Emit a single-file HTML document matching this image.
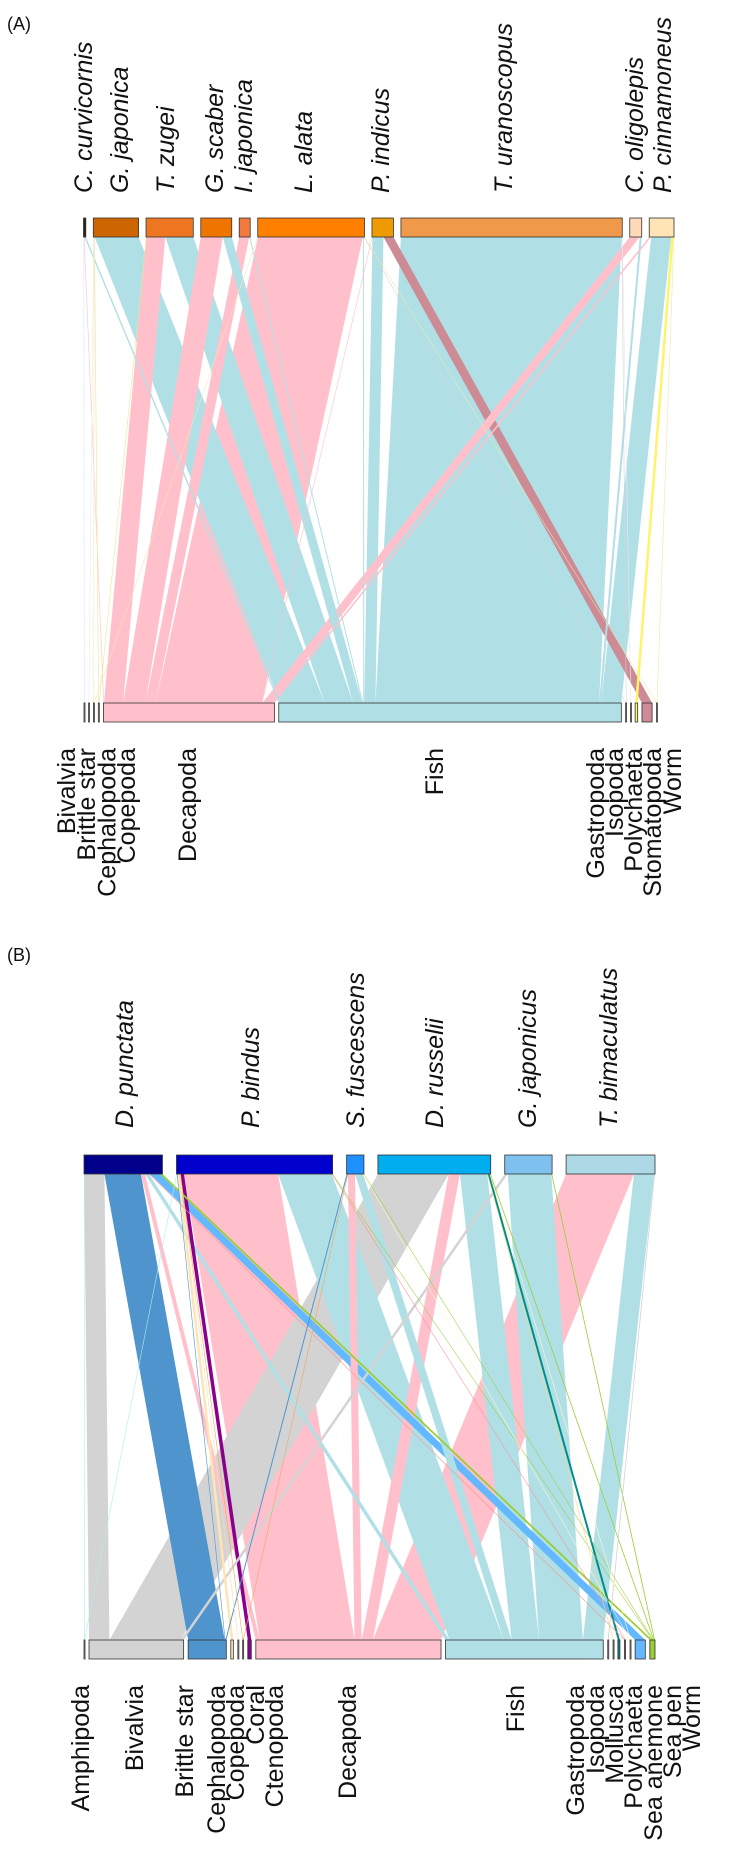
<!DOCTYPE html>
<html><head><meta charset="utf-8">
<style>
html,body{margin:0;padding:0;background:#fff;}
svg{display:block;}
text{font-family:"Liberation Sans",Arial,sans-serif;fill:#111;}
</style></head>
<body>
<svg id="chart" width="740" height="1850" viewBox="0 0 740 1850" xmlns="http://www.w3.org/2000/svg">
<text x="7" y="30" font-size="18">(A)</text>
<text x="7" y="961" font-size="18">(B)</text>
<g id="panelA"></g>
<g id="panelB"></g>
</svg>
<script>
// ---------- Panel A data ----------
const predA = ["C. curvicornis","G. japonica","T. zugei","G. scaber","I. japonica","L. alata","P. indicus","T. uranoscopus","C. oligolepis","P. cinnamoneus"];
const predColorA = ["#222222","#CD6600","#EE7621","#EE7600","#F4793E","#FF7F00","#EE9A00","#F0994A","#FFDAB9","#FFE4B5"];
const preyA = ["Bivalvia","Brittle star","Cephalopoda","Copepoda","Decapoda","Fish","Gastropoda","Isopoda","Polychaeta","Stomatopoda","Worm"];
const preyColorA = ["#D6E8F5","#DDEEFF","#FFE4B5","#F0E68C","#FFC0CB","#B0E0E6","#D3D3D3","#E6E6FA","#FFF36B","#CD8C95","#EEE8AA"];
const webA0 = [0.3,0,0,0,0.5,1.5,0,0,0,0,0];
const webA1 = [0,0.5,0.3,0.5,0,44,0,0,0,0,0];
const webA2 = [0,0,0,0.3,19,28,0,0,0,0,0];
const webA3 = [0,0,0,0,22,9,0,0,0,0,0];
const webA4 = [0,0,0,0,10,1,0,0,0,0,0];
const webA5 = [0,0,0.3,0,105,1,0.3,0,0,0,0.3];
const webA6 = [0,0,0,0,0.5,11,0,0,0,10,0];
const webA7 = [0,0,0,0,0,221,0.3,0.3,0,0,0];
const webA8 = [0,0,0,0,10,2,0,0,0,0,0];
const webA9 = [0,0,0,0,2,20,0,0,2.5,0,0.3];
const predLabelXA = [84,120,166,215,244,304,381,504,635,663];
const preyLabelXA = [67,87,107.5,127,188,435,596,615,634,653,673];

// ---------- Panel B data ----------
const predB = ["D. punctata","P. bindus","S. fuscescens","D. russelii","G. japonicus","T. bimaculatus"];
const predColorB = ["#00008B","#0000CD","#1E90FF","#00AEEF","#7EC0EE","#ADD8E6"];
const preyB = ["Amphipoda","Bivalvia","Brittle star","Cephalopoda","Copepoda","Coral","Ctenopoda","Decapoda","Fish","Gastropoda","Isopoda","Mollusca","Polychaeta","Sea anemone","Sea pen","Worm"];
const preyColorB = ["#AFEEEE","#D3D3D3","#4F94CD","#FFE4B5","#FFDAB9","#F4A460","#8B008B","#FFC0CB","#B0E0E6","#D3D3D3","#EEDD82","#008B8B","#FF8C8C","#FFFACD","#63B8FF","#9ACD32"];
const webB0 = [0.2,20,36,0,0,0,0,4,4,0,0,0,0.8,0,10,2.5];
const webB1 = [0.3,0,0.5,2.5,0.3,0.3,3.5,93,53,0,0,0,0.3,0,0,0.5];
const webB2 = [0,0,1,0,0,0.3,0,7,8,0,0,0,0,0.3,0,0.5];
const webB3 = [0,70,0,0,0,0,0,11,27,0,0.3,2,0,0.3,0,0.8];
const webB4 = [0,3,0,0,0,0,0,0,43,0,0,0,0,0,0,0.8];
const webB5 = [0,0,0,0,0,0,0,67,20,0.8,0,0,0,0,0,0];
const predLabelXB = [125,251,356,435,528,609];
const preyLabelXB = [81,135,185,217,236,256,275,348,516,576,596,615,634,654,673,692];

const NS = "http://www.w3.org/2000/svg";
function mk(tag, attrs, parent){
  const e = document.createElementNS(NS, tag);
  for (const k in attrs) e.setAttribute(k, attrs[k]);
  parent.appendChild(e);
  return e;
}
function layout(totals, x0, x1, gap){
  const sum = totals.reduce((a,b)=>a+b,0);
  const s = (x1 - x0 - gap*(totals.length-1)) / sum;
  const pos = []; let x = x0;
  totals.forEach(t => { pos.push({x:x, w:t*s}); x += t*s + gap; });
  return {pos:pos, s:s};
}
function drawWeb(g, cfg){
  const web = cfg.web, nP = web.length, nQ = web[0].length;
  const pt = web.map(r => r.reduce((a,b)=>a+b,0));
  const qt = []; for (let j=0;j<nQ;j++){ let s=0; for(let i=0;i<nP;i++) s+=web[i][j]; qt.push(s); }
  const top = layout(pt, cfg.topX0, cfg.topX1, cfg.topGap);
  const bot = layout(qt, cfg.botX0, cfg.botX1, cfg.botGap);
  const links = [];
  const topCur = top.pos.map(p => p.x);
  const botCur = bot.pos.map(p => p.x);
  const botSeg = [];
  for (let j=0;j<nQ;j++){ botSeg.push([]); }
  for (let j=0;j<nQ;j++){ for (let i=0;i<nP;i++){ botSeg[j][i] = botCur[j]; botCur[j] += web[i][j]*bot.s; } }
  for (let i=0;i<nP;i++){
    for (let j=0;j<nQ;j++){
      const v = web[i][j]; if (v<=0) continue;
      const tx = topCur[i], tw = v*top.s; topCur[i] += tw;
      const bx = botSeg[j][i], bw = v*bot.s;
      links.push({i:i,j:j,v:v,tx:tx,tw:tw,bx:bx,bw:bw});
    }
  }
  links.sort((a,b)=>b.v-a.v);
  const lg = mk("g", {}, g);
  
  
  links.forEach(L => {
    const y1 = cfg.topY + cfg.barH, y2 = cfg.botY;
    const tw = Math.max(L.tw, 0.6), bw = Math.max(L.bw, 0.6);
    const p = mk("polygon", {points: `${L.tx},${y1} ${L.tx+tw},${y1} ${L.bx+bw},${y2} ${L.bx},${y2}`, fill: cfg.preyColor[L.j], stroke:"none"}, lg);
    
    
  });
  top.pos.forEach((p,i) => {
    const r = mk("rect", {x:p.x, y:cfg.topY, width:Math.max(p.w,1), height:cfg.barH, fill:cfg.predColor[i], stroke:"#333", "stroke-width":0.8}, g);
    
    
    const lx = cfg.predLabelX[i];
    const t = mk("text", {x:0, y:0, transform:`translate(${lx},${cfg.topLabelY}) rotate(-90)`, "font-size":25, "font-style":"italic", "dominant-baseline":"central"}, g);
    t.textContent = cfg.pred[i];
    
    
  });
  bot.pos.forEach((p,j) => {
    const r = mk("rect", {x:p.x, y:cfg.botY, width:Math.max(p.w,1), height:cfg.barH, fill:cfg.preyColor[j], stroke:"#333", "stroke-width":0.8}, g);
    
    
    const lx = cfg.preyLabelX[j];
    const t = mk("text", {x:0, y:0, transform:`translate(${lx},${cfg.botLabelY}) rotate(-90)`, "font-size":25, "text-anchor":"end", "dominant-baseline":"central"}, g);
    t.textContent = cfg.prey[j];
    
    
  });
}
drawWeb(document.getElementById("panelA"), {
  id:"panel-a", web:[webA0,webA1,webA2,webA3,webA4,webA5,webA6,webA7,webA8,webA9],
  pred:predA, prey:preyA, predColor:predColorA, preyColor:preyColorA,
  predLabelX:predLabelXA, preyLabelX:preyLabelXA,
  topX0:83.5, topX1:674, topGap:7.5, botX0:84, botX1:657, botGap:4.3,
  topY:218, botY:703, barH:19, topLabelY:193, botLabelY:748
});
drawWeb(document.getElementById("panelB"), {
  id:"panel-b", web:[webB0,webB1,webB2,webB3,webB4,webB5],
  pred:predB, prey:preyB, predColor:predColorB, preyColor:preyColorB,
  predLabelX:predLabelXB, preyLabelX:preyLabelXB,
  topX0:84, topX1:655, topGap:14, botX0:84, botX1:655, botGap:4.5,
  topY:1155, botY:1640, barH:19, topLabelY:1128, botLabelY:1685
});
</script>
</body></html>
